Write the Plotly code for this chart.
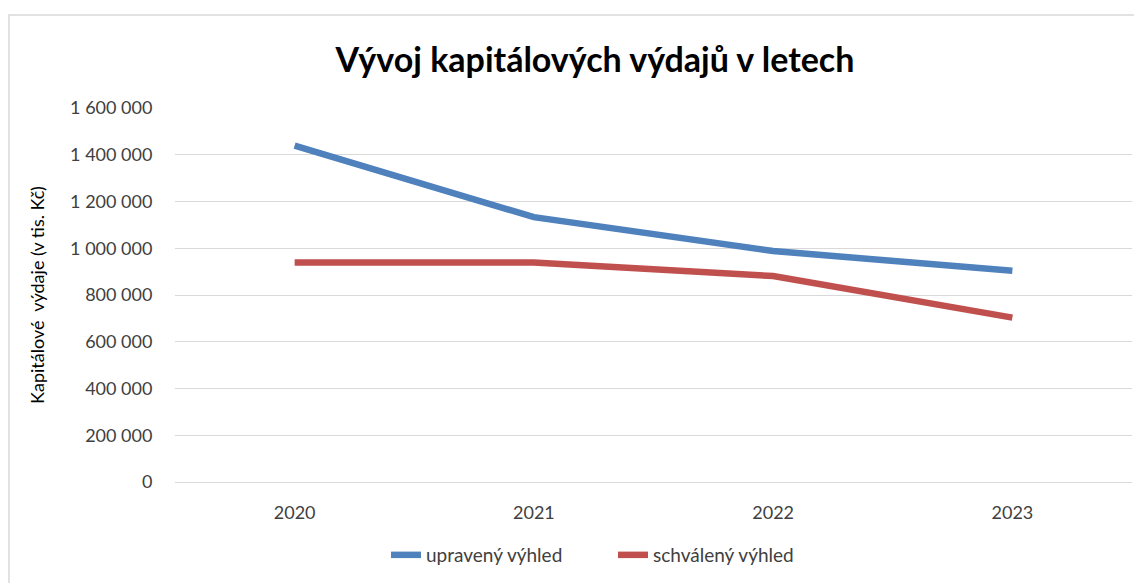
import plotly.graph_objects as go

years = ["2020", "2021", "2022", "2023"]
upraveny = [1439000, 1133000, 988000, 904000]
schvaleny = [939000, 939000, 881000, 703000]
series_names = ["upravený výhled", "schválený výhled"]
y_ticks = [0, 200000, 400000, 600000, 800000, 1000000, 1200000, 1400000, 1600000]

# page body adds an 8px offset, so the figure is laid out in shifted coordinates
OFF = 8
W, H = 1142 - OFF, 583 - OFF
L, R = 175 - OFF, 10
T, B = 108 - OFF, H - (482 - OFF)
pw, ph = W - L - R, H - T - B

font = "Lato, 'Open Sans', sans-serif"

fig = go.Figure()
fig.add_trace(go.Scatter(x=years, y=upraveny, mode="lines", name=series_names[0],
                         line=dict(color="#4F81BD", width=6.5)))
fig.add_trace(go.Scatter(x=years, y=schvaleny, mode="lines", name=series_names[1],
                         line=dict(color="#C0504D", width=6.5)))

fig.update_layout(
    width=W, height=H,
    margin=dict(l=L, r=R, t=T, b=B, autoexpand=False),
    paper_bgcolor="white", plot_bgcolor="white",
    separators=", ",
    font=dict(family=font, color="#404040", size=18),
    title=dict(text="<b>Vývoj kapitálových výdajů v letech</b>",
               font=dict(family=font, size=34, color="#000000"),
               x=(595 - OFF) / W, xanchor="center", xref="container",
               y=1 - (60 - OFF) / H, yanchor="middle", yref="container"),
    showlegend=True,
    legend=dict(orientation="h", x=(386 - OFF - L) / pw, xanchor="left",
                y=((482 - OFF) - (555 - OFF)) / ph, yanchor="middle",
                font=dict(size=19, color="#404040"), itemwidth=30,
                entrywidth=182, entrywidthmode="pixels"),
    xaxis=dict(type="category", range=[-0.5, 3.5], showgrid=False, zeroline=False,
               showline=True, linecolor="#D9D9D9", linewidth=1,
               ticks="outside", ticklen=14, tickcolor="rgba(0,0,0,0)",
               tickfont=dict(size=18, color="#404040")),
    yaxis=dict(range=[0, 1600000], tickvals=y_ticks, tickformat=",d",
               showgrid=True, gridcolor="#D9D9D9", gridwidth=1, zeroline=False,
               ticks="outside", ticklen=18, tickcolor="rgba(0,0,0,0)",
               tickfont=dict(size=18, color="#404040"),
               title=dict(text="Kapitálové  výdaje (v tis. Kč)", standoff=20,
                          font=dict(size=18, color="#000000"))),
    shapes=[dict(type="rect", xref="paper", yref="paper",
                 x0=(9 - OFF - L) / pw, x1=(1141 - OFF - L) / pw,
                 y0=((482 - OFF) - 600) / ph, y1=((482 - OFF) - (15 - OFF)) / ph,
                 line=dict(color="#D9D9D9", width=1.5), fillcolor="rgba(0,0,0,0)", layer="below")],
)

fig.write_html("out.html")
